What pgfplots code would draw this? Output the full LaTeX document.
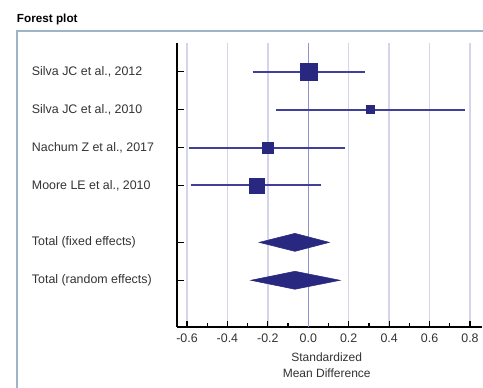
\documentclass[border=0pt]{standalone}
\usepackage{pgfplots}
\pgfplotsset{compat=1.18}
\usepackage{fontspec}
\setmainfont{Liberation Sans}
\definecolor{sq}{RGB}{40,40,128}
\definecolor{ci}{RGB}{64,64,155}
\definecolor{gridc}{RGB}{212,212,236}
\definecolor{zeroc}{RGB}{145,145,205}
\definecolor{framec}{RGB}{160,180,200}
\begin{document}
\begin{tikzpicture}[x=0.75pt,y=0.75pt]
\clip (0,0) rectangle (483,387);
\path[use as bounding box] (0,0) rectangle (483,387);
\fill[white] (0,0) rectangle (483,387);
\draw[framec, line width=0.8pt] (17,-20) -- (17,356) -- (500,356);
\node[anchor=west, font=\bfseries\fontsize{8.8}{10}\selectfont, inner sep=0pt] at (16.7,368) {Forest plot};
\begin{axis}[
  at={(132.975pt,44.775pt)}, anchor=south west,
  scale only axis, width=228.3pt, height=213pt,
  xmin=-0.648, xmax=0.858, ymin=0.25, ymax=7.74, y dir=reverse,
  axis x line*=bottom, axis y line*=left,
  axis line style={black, line width=1.3pt, -},
  xtick={-0.6,-0.4,-0.2,0,0.2,0.4,0.6,0.8},
  minor x tick num=1,
  ytick={1,2,3,4,5.5,6.5}, yticklabels={},
  tick align=inside,
  tick style={black, line width=0.9pt},
  major tick length=5pt, minor tick length=3pt,
  xmajorgrids, major grid style={gridc, line width=1pt},
  xticklabel style={font=\fontsize{9.3}{10}\selectfont, inner sep=1pt, yshift=-3.5pt, text=black!80},
  /pgf/number format/.cd, fixed, fixed zerofill, precision=1, assume math mode=true,
]
\addplot[zeroc, line width=1pt] coordinates {(0,0.25) (0,7.74)};
% CI lines
\addplot[draw=ci, line width=1.5pt] coordinates {(-0.275,1) (0.28,1)};
\addplot[draw=ci, line width=1.5pt] coordinates {(-0.16,2) (0.777,2)};
\addplot[draw=ci, line width=1.5pt] coordinates {(-0.59,3) (0.183,3)};
\addplot[draw=ci, line width=1.5pt] coordinates {(-0.582,4) (0.063,4)};
% squares
\addplot[only marks, mark=square*, mark size=6.2pt, sq, mark options={draw=sq, fill=sq}] coordinates {(0.002,1)};
\addplot[only marks, mark=square*, mark size=3pt, sq, mark options={draw=sq, fill=sq}] coordinates {(0.309,2)};
\addplot[only marks, mark=square*, mark size=4.2pt, sq, mark options={draw=sq, fill=sq}] coordinates {(-0.2,3)};
\addplot[only marks, mark=square*, mark size=5.7pt, sq, mark options={draw=sq, fill=sq}] coordinates {(-0.255,4)};
% diamonds
\addplot[draw=sq, fill=sq] coordinates {(-0.243,5.5) (-0.066,5.263) (0.104,5.5) (-0.066,5.737)} -- cycle;
\addplot[draw=sq, fill=sq] coordinates {(-0.284,6.5) (-0.066,6.263) (0.157,6.5) (-0.066,6.737)} -- cycle;
\end{axis}
\begin{scope}[every node/.style={anchor=west, inner sep=0pt, font=\fontsize{9.3}{11}\selectfont, text=black!80}]
\node at (31.7,315.3) {Silva JC et al., 2012};
\node at (31.7,277.7) {Silva JC et al., 2010};
\node at (31.7,239.3) {Nachum Z et al., 2017};
\node at (31.7,201.3) {Moore LE et al., 2010};
\node at (31.7,144.7) {Total (fixed effects)};
\node at (31.7,106.7) {Total (random effects)};
\end{scope}
\node[align=center, font=\fontsize{9}{12}\selectfont, inner sep=0pt, text=black!80] at (326.7,22) {Standardized\\Mean Difference};
\end{tikzpicture}
\end{document}
